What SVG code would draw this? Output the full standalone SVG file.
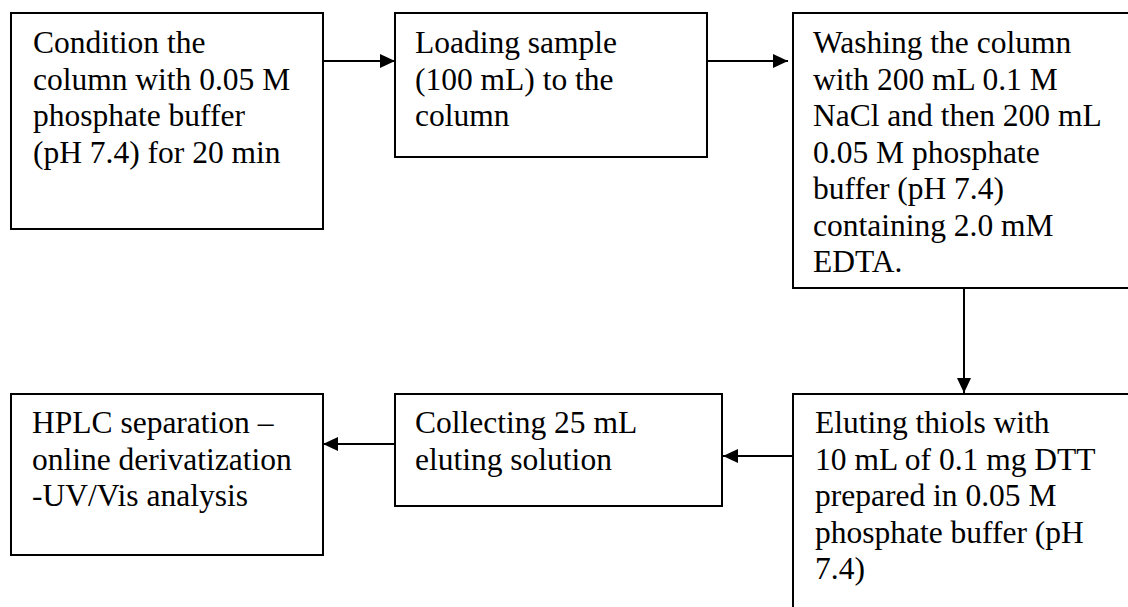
<svg xmlns="http://www.w3.org/2000/svg" width="1128" height="607" viewBox="0 0 1128 607">
<style>
.box{fill:#fff;stroke:#000;stroke-width:2}
.t{font-family:"Liberation Serif","Times New Roman",serif;font-size:31.5px;fill:#000}
.c{fill:none;stroke:#000;stroke-width:2}
</style>
<defs>
<marker id="ah" markerUnits="userSpaceOnUse" markerWidth="15" markerHeight="14" refX="15" refY="7" orient="auto">
<path d="M0,0 L15,7 L0,14 z" fill="#000"/>
</marker>
</defs>
<rect width="1128" height="607" fill="#fff"/>
<g id="n1">
<rect class="box" x="11" y="13" width="312" height="216"/>
<text class="t"><tspan x="33" y="53">Condition the</tspan><tspan x="33" y="90">column with 0.05 M</tspan><tspan x="33" y="126">phosphate buffer</tspan><tspan x="33" y="163">(pH 7.4) for 20 min</tspan></text>
</g>
<g id="n2">
<rect class="box" x="395" y="13" width="312" height="144"/>
<text class="t"><tspan x="415" y="53">Loading sample</tspan><tspan x="415" y="90">(100 mL) to the</tspan><tspan x="415" y="126">column</tspan></text>
</g>
<g id="n3">
<rect class="box" x="793" y="13" width="400" height="275"/>
<text class="t"><tspan x="813" y="53">Washing the column</tspan><tspan x="813" y="90">with 200 mL 0.1 M</tspan><tspan x="813" y="126">NaCl and then 200 mL</tspan><tspan x="813" y="163">0.05 M phosphate</tspan><tspan x="813" y="199">buffer (pH 7.4)</tspan><tspan x="813" y="236">containing 2.0 mM</tspan><tspan x="813" y="272">EDTA.</tspan></text>
</g>
<g id="n4">
<rect class="box" x="793" y="394" width="400" height="300"/>
<text class="t"><tspan x="815" y="433">Eluting thiols with</tspan><tspan x="815" y="470">10 mL of 0.1 mg DTT</tspan><tspan x="815" y="506">prepared in 0.05 M</tspan><tspan x="815" y="543">phosphate buffer (pH</tspan><tspan x="815" y="579">7.4)</tspan></text>
</g>
<g id="n5">
<rect class="box" x="395" y="394" width="327" height="112"/>
<text class="t"><tspan x="415" y="433">Collecting 25 mL</tspan><tspan x="415" y="470">eluting solution</tspan></text>
</g>
<g id="n6">
<rect class="box" x="11" y="394" width="312" height="161"/>
<text class="t"><tspan x="32" y="433">HPLC separation –</tspan><tspan x="32" y="470">online derivatization</tspan><tspan x="32" y="506">-UV/Vis analysis</tspan></text>
</g>
<g id="connectors">
<path class="c" d="M323,61 H395" marker-end="url(#ah)"/>
<path class="c" d="M707,61 H788" marker-end="url(#ah)"/>
<path class="c" d="M964,288 V393" marker-end="url(#ah)"/>
<path class="c" d="M793,456 H723" marker-end="url(#ah)"/>
<path class="c" d="M395,444 H323" marker-end="url(#ah)"/>
</g>
</svg>
